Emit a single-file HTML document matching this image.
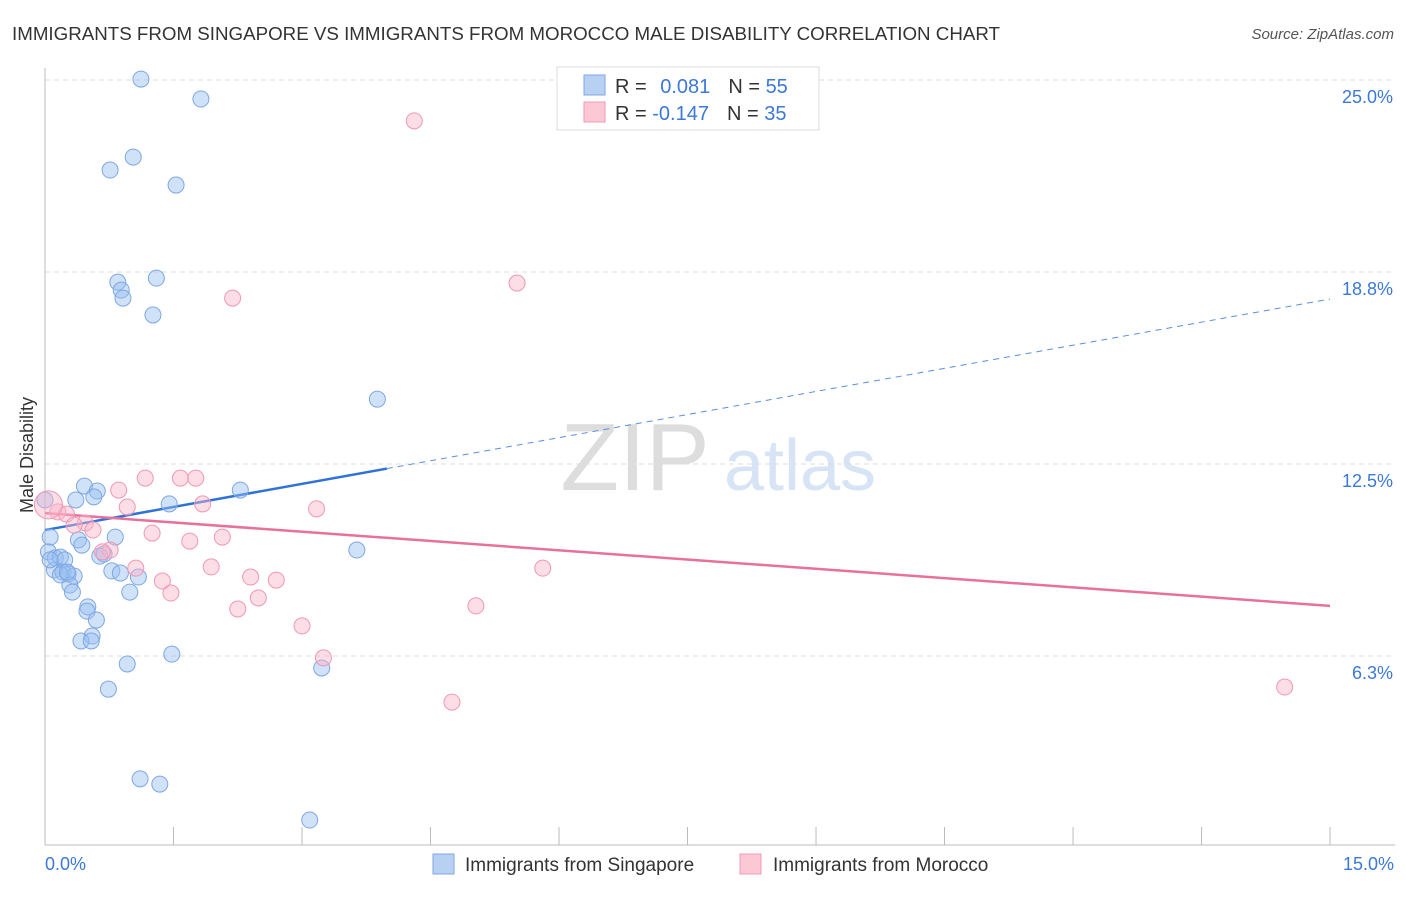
<!DOCTYPE html>
<html><head><meta charset="utf-8"><style>
body{margin:0;background:#fff;font-family:"Liberation Sans",sans-serif;}
svg text{font-family:"Liberation Sans",sans-serif;}
</style></head><body>
<svg id="c" width="1406" height="892">
<text x="12" y="40" font-size="18" fill="#333" textLength="988" lengthAdjust="spacingAndGlyphs">IMMIGRANTS FROM SINGAPORE VS IMMIGRANTS FROM MOROCCO MALE DISABILITY CORRELATION CHART</text>
<text x="1394" y="39" font-size="15" fill="#555" font-style="italic" text-anchor="end">Source: ZipAtlas.com</text>
<text x="635" y="490" font-size="96" fill="#ddd" font-family="Liberation Serif" text-anchor="middle">ZIP</text>
<text x="800" y="490" font-size="72" fill="#d6e4f5" text-anchor="middle">atlas</text>
<text transform="translate(33,455) rotate(-90)" font-size="18" fill="#333" text-anchor="middle">Male Disability</text>
<text x="45" y="870" font-size="18" fill="#3b78d8">0.0%</text>
<text x="1394" y="870" font-size="18" fill="#3b78d8" text-anchor="end">15.0%</text>
<g id="grid"></g><g id="lines"></g><g id="pts"></g>
<g>
<rect x="557" y="67" width="262" height="63" fill="#fff" stroke="#ddd"/>
<rect x="584" y="75" width="21" height="20" fill="#b8d1f3" stroke="#7ea7e4"/>
<rect x="584" y="102" width="21" height="20" fill="#fcc8d6" stroke="#f098b3"/>
<text x="615" y="93" font-size="20" fill="#333">R = <tspan fill="#3b78d8" dx="8">0.081</tspan><tspan dx="18">N = </tspan><tspan fill="#3b78d8">55</tspan></text>
<text x="615" y="120" font-size="20" fill="#333">R = <tspan fill="#3b78d8">-0.147</tspan><tspan dx="18">N = </tspan><tspan fill="#3b78d8">35</tspan></text>
</g>
<g>
<rect x="433" y="854" width="21" height="20" fill="#b8d1f3" stroke="#7ea7e4"/>
<text x="465" y="871" font-size="19" fill="#333">Immigrants from Singapore</text>
<rect x="740" y="854" width="21" height="20" fill="#fcc8d6" stroke="#f098b3"/>
<text x="773" y="871" font-size="19" fill="#333">Immigrants from Morocco</text>
</g>
</svg>
<script>
const yTicks=[25,18.75,12.5,6.25];
const yTickLabels=["25.0%","18.8%","12.5%","6.3%"];
const xTicks=[0,1.5,3,4.5,6,7.5,9,10.5,12,13.5,15];
const blueX=[1.12,1.82,1.03,0.76,1.53,0.85,1.30,0.89,0.91,1.26,3.88,2.28,1.45,0.46,0.61,0.57,0.36,0.06,0.39,0.43,0.82,0.04,0.12,0.18,0.23,0.11,0.21,0.27,0.34,0.64,0.69,0.78,0.88,1.09,0.29,0.32,0.99,0.50,0.49,0.60,0.55,0.42,0.54,1.48,0.96,3.23,0.74,3.64,1.11,1.34,3.09,0.0,0.18,0.26,0.06];
const blueY=[25.03,24.38,22.49,22.07,21.58,18.42,18.55,18.16,17.90,17.35,14.61,11.65,11.20,11.78,11.62,11.43,11.33,10.12,10.03,9.86,10.12,9.64,9.44,9.47,9.38,9.05,8.98,8.92,8.85,9.50,9.57,9.02,8.95,8.82,8.56,8.33,8.33,7.85,7.71,7.42,6.90,6.74,6.74,6.31,5.99,5.86,5.17,9.70,2.25,2.08,0.91,11.33,8.89,8.98,9.38];
const pinkX=[4.31,5.51,2.19,1.76,1.17,1.58,0.86,1.84,0.96,3.17,0.15,0.25,0.47,0.34,0.56,1.25,1.69,2.07,0.76,0.67,1.94,1.06,5.81,1.37,1.47,2.40,2.70,2.49,2.25,5.03,3.00,3.25,4.75,14.47,0.04];
const pinkY=[23.67,18.39,17.90,12.04,12.04,12.04,11.65,11.20,11.10,11.04,10.94,10.87,10.58,10.51,10.35,10.25,9.99,10.12,9.70,9.64,9.15,9.11,9.11,8.69,8.30,8.82,8.72,8.14,7.78,7.88,7.23,6.19,4.75,5.24,11.17];
const blueTrend=[10.35,17.87];const blueSolidEnd=3.99;
const pinkTrend=[10.9,7.88];
const X=v=>45+v*85.67, Y=v=>848-v*30.72;
const NS="http://www.w3.org/2000/svg";
function mk(p,t,a){const e=document.createElementNS(NS,t);for(const k in a)e.setAttribute(k,a[k]);p.appendChild(e);return e;}
const g=document.getElementById('grid');
yTicks.forEach((t,i)=>{
 const l=mk(g,'line',{x1:45,x2:1395,y1:Y(t),y2:Y(t),stroke:'#ddd','stroke-dasharray':'5,4'});
 
 
 const tx=mk(g,'text',{x:1393,y:Y(t)+23,'font-size':18,fill:'#3b78d8','text-anchor':'end'});
 tx.textContent=yTickLabels[i];
 
 
});
const ax=mk(g,'line',{x1:45,x2:1395,y1:845,y2:845,stroke:'#bbb'});


const ay=mk(g,'line',{x1:45,x2:45,y1:68,y2:845,stroke:'#bbb'});


xTicks.forEach(t=>{const l=mk(g,'line',{x1:X(t),x2:X(t),y1:827,y2:845,stroke:'#bbb'});
 
 });
const pts=document.getElementById('pts');
blueX.forEach((x,i)=>{const c=mk(pts,'circle',{cx:X(x),cy:Y(blueY[i]),r:8,fill:'rgba(150,190,240,0.45)',stroke:'#7ea7e4','stroke-width':1});
 
 });
pinkX.forEach((x,i)=>{const c=mk(pts,'circle',{cx:X(x),cy:Y(pinkY[i]),r:i==pinkX.length-1?14:8,fill:'rgba(250,180,200,0.45)',stroke:'#f098b3','stroke-width':1});
 
 });
const L=document.getElementById('lines');
const by=x=>blueTrend[0]+(blueTrend[1]-blueTrend[0])*x/15;
let e=mk(L,'line',{x1:X(0),y1:Y(by(0)),x2:X(blueSolidEnd),y2:Y(by(blueSolidEnd)),stroke:'#2f73d8','stroke-width':2.5});


e=mk(L,'line',{x1:X(blueSolidEnd),y1:Y(by(blueSolidEnd)),x2:X(15),y2:Y(by(15)),stroke:'#5a8fdc','stroke-width':1,'stroke-dasharray':'6,5'});


e=mk(L,'line',{x1:X(0),y1:Y(pinkTrend[0]),x2:X(15),y2:Y(pinkTrend[1]),stroke:'#e8719a','stroke-width':2.5});


</script>
</body></html>
